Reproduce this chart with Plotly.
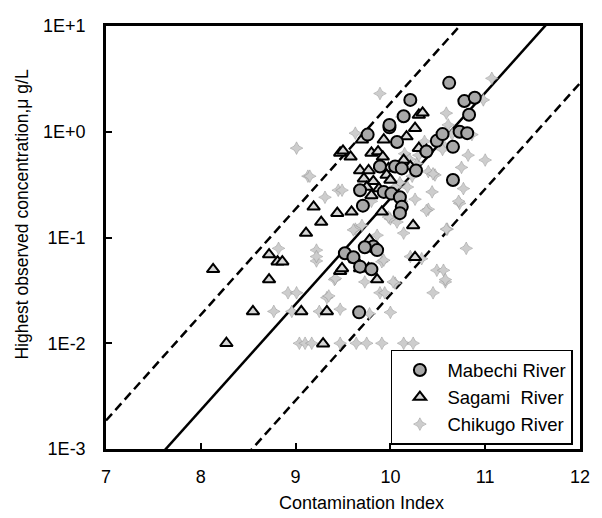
import plotly.graph_objects as go

# ---------------- data ----------------
mabechi_x = [10.62, 10.78, 10.89, 10.83, 10.73, 10.81, 10.66, 10.49, 10.38, 10.21,
             10.14, 9.99, 9.76, 10.05, 10.12, 10.27, 9.89, 10.66, 9.68, 9.93,
             10.01, 9.71, 10.10, 10.12, 10.10, 9.82, 9.86, 9.52, 9.61, 9.68,
             9.80, 9.67, 10.07, 9.99, 9.73, 10.55]
mabechi_y = [2.9, 1.95, 2.1, 1.45, 1.0, 0.97, 0.72, 0.82, 0.65, 2.0,
             1.4, 1.1, 0.94, 0.47, 0.45, 0.43, 0.47, 0.35, 0.28, 0.27,
             0.26, 0.20, 0.24, 0.195, 0.17, 0.082, 0.076, 0.071, 0.065, 0.053,
             0.050, 0.0196, 0.80, 1.16, 0.081, 0.95]

sagami_x = [8.13, 8.27, 8.55, 8.72, 8.81, 8.86, 8.72, 9.06, 9.33, 9.29,
            9.47, 9.19, 9.27, 9.11, 9.44, 9.47, 9.50, 9.58, 9.70, 9.93,
            10.30, 10.34, 10.26, 10.17, 9.80, 9.87, 9.92, 9.68, 9.77, 9.89,
            9.98, 9.96, 10.14, 10.21, 10.30, 10.38, 9.59, 9.91, 10.24, 9.78,
            9.49, 9.68, 9.77, 9.86, 9.63, 10.26, 9.72, 9.82, 9.75, 9.88,
            9.80, 9.95, 10.00]
sagami_y = [0.050, 0.010, 0.020, 0.069, 0.059, 0.059, 0.040, 0.020, 0.020, 0.0099,
            0.048, 0.195, 0.14, 0.11, 0.17, 0.63, 0.66, 0.58, 0.84, 0.84,
            1.44, 1.51, 1.08, 0.90, 0.63, 0.65, 0.58, 0.43, 0.43, 0.48,
            0.45, 0.39, 0.54, 0.47, 0.70, 0.67, 0.175, 0.175, 0.13, 0.095,
            0.051, 0.051, 0.051, 0.040, 0.062, 0.065, 0.36, 0.34, 0.30, 0.29,
            0.25, 0.26, 0.35]

chikugo_x = [9.01, 9.13, 9.31, 9.45, 8.82, 9.22, 9.22, 8.92, 9.01, 8.77,
             8.96, 9.25, 9.41, 9.33, 9.04, 9.10, 9.17, 9.22, 9.35, 9.47,
             9.78, 10.00, 9.89, 9.94, 10.05, 10.45, 10.58, 9.47, 9.64, 9.75,
             9.91, 10.14, 10.24, 10.47, 10.44, 10.77, 10.73, 10.40, 10.26, 10.60,
             10.80, 10.33, 10.49, 10.56, 10.58, 11.07, 10.98, 10.59, 10.61, 10.86,
             10.36, 10.56, 10.82, 11.00, 10.75, 9.89, 9.63, 10.72, 10.38, 10.59,
             9.91, 9.63, 10.00, 10.07, 9.49, 9.15, 9.61, 9.42, 9.93, 9.98,
             10.14, 10.21, 10.03, 9.73, 10.12, 10.40, 10.45, 10.20, 10.28, 10.10,
             10.18, 10.23, 10.05, 10.12, 10.15, 10.30, 9.80, 9.70, 9.86, 10.55,
             10.65]
chikugo_y = [0.70, 0.38, 0.24, 0.28, 0.079, 0.076, 0.060, 0.030, 0.030, 0.020,
             0.020, 0.020, 0.040, 0.027, 0.010, 0.010, 0.010, 0.066, 0.028, 0.021,
             0.019, 0.0196, 0.030, 0.030, 0.037, 0.030, 0.038, 0.010, 0.010, 0.010,
             0.010, 0.010, 0.010, 0.39, 0.27, 0.29, 0.21, 0.185, 0.23, 0.12,
             0.079, 0.063, 0.049, 0.049, 0.040, 3.2, 2.0, 1.5, 1.16, 0.94,
             0.81, 0.75, 0.60, 0.54, 0.46, 2.3, 0.97, 0.22, 0.18, 0.12,
             0.059, 0.12, 0.15, 0.14, 0.28, 0.38, 0.118, 0.041, 0.061, 0.156,
             0.11, 0.066, 0.038, 0.038, 1.38, 0.42, 0.40, 0.55, 0.50, 0.33,
             0.30, 0.38, 0.30, 0.22, 0.62, 0.60, 0.22, 0.13, 0.105, 0.68,
             0.95]

# regression line and +/- bounds (end points)
line_x = [7.0, 12.0]
fit_y = [2.34e-4, 23.4]
upper_y = [1.86e-3, 186.0]
lower_y = [2.88e-5, 2.88]

y_tickvals = [0.001, 0.01, 0.1, 1, 10]
y_ticktext = ["1E-3", "1E-2", "1E-1", "1E+0", "1E+1"]
x_tickvals = [7, 8, 9, 10, 11, 12]

FONT = "Liberation Sans, Arial, sans-serif"

fig = go.Figure()

fig.add_trace(go.Scatter(x=line_x, y=upper_y, mode="lines", showlegend=False,
                         line=dict(color="black", width=2.5, dash="9px,5px")))
fig.add_trace(go.Scatter(x=line_x, y=lower_y, mode="lines", showlegend=False,
                         line=dict(color="black", width=2.5, dash="9px,5px")))
fig.add_trace(go.Scatter(x=line_x, y=fit_y, mode="lines", showlegend=False,
                         line=dict(color="black", width=2.5)))

fig.add_trace(go.Scatter(x=chikugo_x, y=chikugo_y, mode="markers", name="Chikugo River",
                         marker=dict(symbol="star-diamond", size=9, color="#cdcdcd",
                                     line=dict(color="#9a9a9a", width=0.6))))
fig.add_trace(go.Scatter(x=sagami_x, y=sagami_y, mode="markers", name="Sagami  River",
                         marker=dict(symbol="triangle-up", size=11, color="#d6d6d6",
                                     line=dict(color="black", width=2))))
fig.add_trace(go.Scatter(x=mabechi_x, y=mabechi_y, mode="markers", name="Mabechi River",
                         marker=dict(symbol="circle", size=12, color="#a8a8a8",
                                     line=dict(color="black", width=2))))

fig.update_layout(
    width=602, height=518,
    margin=dict(l=106, r=22, t=26, b=69),
    paper_bgcolor="white", plot_bgcolor="white",
    font=dict(family=FONT, size=18, color="black"),
    showlegend=True,
    legend=dict(x=0.985, y=0.0095, xanchor="right", yanchor="bottom",
                traceorder="reversed", bgcolor="white",
                bordercolor="black", borderwidth=1.5,
                font=dict(family=FONT, size=18.5, color="black"),
                itemwidth=45, tracegroupgap=0),
    annotations=[
        dict(text="Contamination Index", xref="paper", yref="paper",
             x=0.54, y=-0.127, xanchor="center", yanchor="middle",
             showarrow=False, font=dict(family=FONT, size=18, color="black")),
        dict(text="Highest observed concentration,\u03bc g/L", xref="paper", yref="paper",
             x=-0.178, y=0.5556, xanchor="center", yanchor="middle", textangle=-90,
             showarrow=False, font=dict(family=FONT, size=17.5, color="black")),
    ],
)

fig.update_xaxes(range=[7, 12], tickvals=x_tickvals, ticks="inside", ticklen=6,
                 tickwidth=1.5, tickcolor="black", showline=True, linewidth=2.5,
                 linecolor="black", mirror=True, showgrid=False, zeroline=False,
                 ticklabelstandoff=10, tickfont=dict(family=FONT, size=18))
fig.update_yaxes(type="log", range=[-3, 1], tickvals=y_tickvals, ticktext=y_ticktext,
                 ticks="inside", ticklen=6, tickwidth=1.5, tickcolor="black",
                 showline=True, linewidth=2.5, linecolor="black", mirror=True,
                 showgrid=False, zeroline=False, ticklabelstandoff=14,
                 tickfont=dict(family=FONT, size=18))

fig.write_html("out.html")
